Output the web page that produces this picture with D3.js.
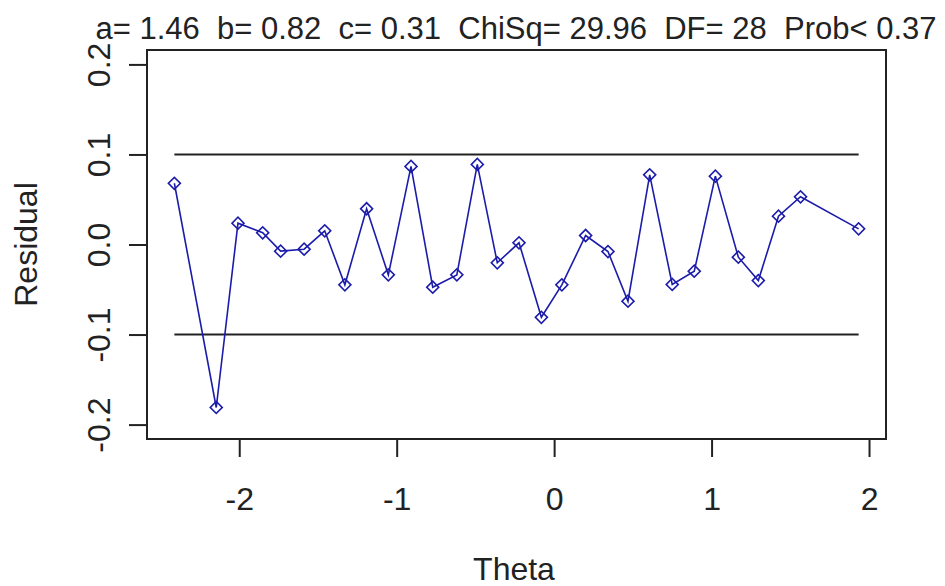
<!DOCTYPE html>
<html>
<head>
<meta charset="utf-8">
<script src="https://cdn.jsdelivr.net/npm/d3@7"></script>
<style>
  body { margin: 0; background: #fff; }
  svg { display: block; font-family: "Liberation Sans", Arial, sans-serif; }
</style>
</head>
<body>
<div id="chart"></div>
<script>
///////////////////////////////////////////////////////////////////////////////////////////////////
// item fit residual plot

const theta = [-2.412, -2.146, -2.008, -1.851, -1.737, -1.588, -1.457, -1.329, -1.191, -1.053,
               -0.909, -0.771, -0.618, -0.488, -0.361, -0.223, -0.081, 0.049, 0.200, 0.342,
               0.469, 0.607, 0.750, 0.890, 1.024, 1.170, 1.297, 1.425, 1.565, 1.934];
const residual = [0.068, -0.181, 0.0237, 0.013, -0.0074, -0.0052, 0.0152, -0.0448, 0.0397, -0.0337,
                  0.0867, -0.0474, -0.0337, 0.0889, -0.0203, 0.0019, -0.0808, -0.0448, 0.010, -0.0078,
                  -0.063, 0.0774, -0.0444, -0.0297, 0.0759, -0.0141, -0.040, 0.0314, 0.053, 0.0174];
const bounds = [-0.1, 0.1];
const x_ticks = [-2, -1, 0, 1, 2];
const y_ticks = [-0.2, -0.1, 0.0, 0.1, 0.2];
const title_text = "a= 1.46  b= 0.82  c= 0.31  ChiSq= 29.96  DF= 28  Prob< 0.37";
const x_label = "Theta";
const y_label = "Residual";

///////////////////////////////////////////////////////////////////////////////////////////////////

var svg_width = 945, svg_height = 586;
var plot = { left: 147, right: 886, top: 50, bottom: 439 };
var line_color = "#1c1caa";

var svg = d3.select("#chart")
  .append("svg")
    .attr("width", svg_width)
    .attr("height", svg_height);

// R style 4% axis extension
let t_min = d3.min(theta), t_max = d3.max(theta);
let t_pad = (t_max - t_min) * 0.04;
var x = d3.scaleLinear()
    .domain([t_min - t_pad, t_max + t_pad])
    .range([plot.left, plot.right]);

var y = d3.scaleLinear()
    .domain([-0.216, 0.216])
    .range([plot.bottom, plot.top]);

// bounds at +/- 0.1 across theta range
svg.selectAll(".bound")
    .data(bounds)
    .join("line")
      .attr("class", "bound")
      .attr("x1", x(t_min))
      .attr("x2", x(t_max))
      .attr("y1", function(d) { return y(d); })
      .attr("y2", function(d) { return y(d); })
      .attr("stroke", "#222")
      .attr("stroke-width", 2);

let points = theta.map(function(t, i) { return [t, residual[i]]; });

svg.append("path")
    .datum(points)
    .attr("fill", "none")
    .attr("stroke", line_color)
    .attr("stroke-width", 1.6)
    .attr("d", d3.line()
        .x(function(d) { return x(d[0]); })
        .y(function(d) { return y(d[1]); }));

let diamond = d3.symbol().type(d3.symbolSquare).size(72);
svg.selectAll(".pt")
    .data(points)
    .join("path")
      .attr("class", "pt")
      .attr("d", diamond)
      .attr("transform", function(d) {
          return "translate(" + x(d[0]) + "," + y(d[1]) + ") rotate(45)";
      })
      .attr("fill", "none")
      .attr("stroke", line_color)
      .attr("stroke-width", 1.6);

// box
svg.append("rect")
    .attr("x", plot.left)
    .attr("y", plot.top)
    .attr("width", plot.right - plot.left)
    .attr("height", plot.bottom - plot.top)
    .attr("fill", "none")
    .attr("stroke", "#222")
    .attr("stroke-width", 2);

// x axis
var gx = svg.append("g")
    .attr("transform", "translate(0," + plot.bottom + ")")
    .call(d3.axisBottom(x).tickValues(x_ticks).tickSize(18).tickSizeOuter(0));
gx.select(".domain").remove();
gx.selectAll(".tick line").attr("stroke", "#222").attr("stroke-width", 2);
gx.selectAll(".tick text")
    .attr("y", 71)
    .attr("dy", null)
    .attr("fill", "#222")
    .style("font-size", "32px")
    .style("font-family", "Liberation Sans, Arial, sans-serif")
    .text(function(d) { return String(d); });

// y axis
var gy = svg.append("g")
    .attr("transform", "translate(" + plot.left + ",0)")
    .call(d3.axisLeft(y).tickValues(y_ticks).tickSize(18).tickSizeOuter(0));
gy.select(".domain").remove();
gy.selectAll(".tick line").attr("stroke", "#222").attr("stroke-width", 2);
gy.selectAll(".tick text")
    .attr("transform", "rotate(-90)")
    .attr("x", 0)
    .attr("y", -37)
    .attr("dy", null)
    .attr("text-anchor", "middle")
    .attr("fill", "#222")
    .style("font-size", "32px")
    .style("font-family", "Liberation Sans, Arial, sans-serif")
    .text(function(d) { return d.toFixed(1); });

// labels
svg.append("text")
    .attr("x", 516)
    .attr("y", 39)
    .attr("text-anchor", "middle")
    .style("white-space", "pre")
    .style("font-size", "31px")
    .attr("fill", "#222")
    .text(title_text);

svg.append("text")
    .attr("x", 514)
    .attr("y", 580)
    .attr("text-anchor", "middle")
    .style("font-size", "32px")
    .attr("fill", "#222")
    .text(x_label);

svg.append("text")
    .attr("transform", "translate(37," + ((plot.top + plot.bottom) / 2) + ") rotate(-90)")
    .attr("text-anchor", "middle")
    .style("font-size", "32px")
    .attr("fill", "#222")
    .text(y_label);
</script>
</body>
</html>
